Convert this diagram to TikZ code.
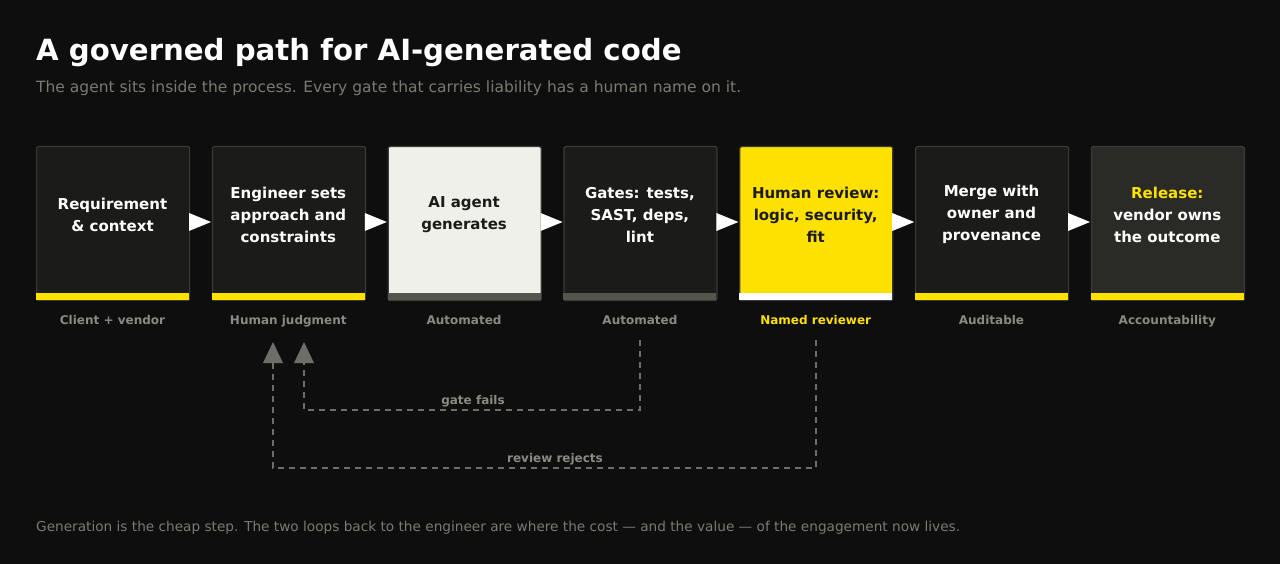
\documentclass[tikz,border=0pt]{standalone}
\usepackage{fontspec}
\setmainfont{DejaVu Sans}
\definecolor{bg}{HTML}{0E0E0E}
\definecolor{boxd}{HTML}{1B1B1A}
\definecolor{boxr}{HTML}{2A2A26}
\definecolor{brd}{HTML}{3A3A37}
\definecolor{yel}{HTML}{FFE100}
\definecolor{lite}{HTML}{F0F0EA}
\definecolor{gbar}{HTML}{55554F}
\definecolor{gtxt}{HTML}{8A8A82}
\definecolor{ltxt}{HTML}{7A7A72}
\definecolor{dash}{HTML}{6E6E68}
\begin{document}
\begin{tikzpicture}[x=1pt,y=-1pt,
  stage/.style={draw=brd,line width=1.2pt,rounded corners=2pt,minimum width=153pt,minimum height=154pt,anchor=north west,inner sep=0pt},
  ttl/.style={font=\bfseries\fontsize{15}{22}\selectfont,align=center,text=white},
  lbl/.style={font=\bfseries\fontsize{12}{14}\selectfont,text=gtxt,anchor=base},
  tri/.style={fill=white},
  loop/.style={draw=dash,line width=2pt,dash pattern=on 6pt off 5pt},
  head/.style={fill=dash,draw=none}]
\useasboundingbox (0,0) rectangle (1280,564);
\fill[bg] (0,0) rectangle (1280,564);
\node[anchor=west,text=white,font=\bfseries\fontsize{29.2}{32}\selectfont,inner sep=0pt] (title) at (36,53) {A governed path for AI-generated code};
\node[anchor=west,text=ltxt,font=\fontsize{15.5}{18}\selectfont,inner sep=0pt] (sub) at (36,88) {The agent sits inside the process. Every gate that carries liability has a human name on it.};
\foreach \i/\fc/\bc/\tc/\txt/\cc/\lab in {
 0/boxd/yel/white/{Requirement\\\& context}/gtxt/{Client + vendor},
 1/boxd/yel/white/{Engineer sets\\approach and\\constraints}/gtxt/{Human judgment},
 2/lite/gbar/boxd/{AI agent\\generates}/gtxt/Automated,
 3/boxd/gbar/white/{Gates: tests,\\SAST, deps,\\lint}/gtxt/Automated,
 4/yel/white/boxd/{Human review:\\logic, security,\\fit}/yel/{Named reviewer},
 5/boxd/yel/white/{Merge with\\owner and\\provenance}/gtxt/Auditable,
 6/boxr/yel/white/{\textcolor{yel}{Release:}\\vendor owns\\the outcome}/gtxt/Accountability}{
  \pgfmathsetmacro\xx{36+175.8*\i}
  \node[stage,fill=\fc] (s\i) at (\xx,146) {};
  \fill[\bc] (\xx,293) rectangle (\xx+153,300);
  \node[ttl,text=\tc] (t\i) at (\xx+76.5,214.5) {\txt};
  \node[lbl,text=\cc] (c\i) at (\xx+76.5,324) {\lab};
}
\foreach \i in {0,...,5}{
  \pgfmathsetmacro\xx{36+175.8*\i+153}
  \fill[tri] (\xx,213) -- (\xx+22,222) -- (\xx,231) -- cycle;
}
\coordinate (a1) at (304,363);
\coordinate (a2) at (273,363);
\draw[loop] (640,340) -- (640,410) -- (304,410) -- (a1);
\draw[loop] (816,340) -- (816,468) -- (273,468) -- (a2);
\fill[head] (294,363) -- (304,342) -- (314,363) -- cycle;
\fill[head] (263,363) -- (273,342) -- (283,363) -- cycle;
\node[lbl] (gf) at (473,404) {gate fails};
\node[lbl] (rr) at (555,462) {review rejects};
\node[anchor=west,text=ltxt,font=\fontsize{13.65}{16}\selectfont,inner sep=0pt] (foot) at (36,528) {Generation is the cheap step. The two loops back to the engineer are where the cost — and the value — of the engagement now lives.};
\end{tikzpicture}
\end{document}
